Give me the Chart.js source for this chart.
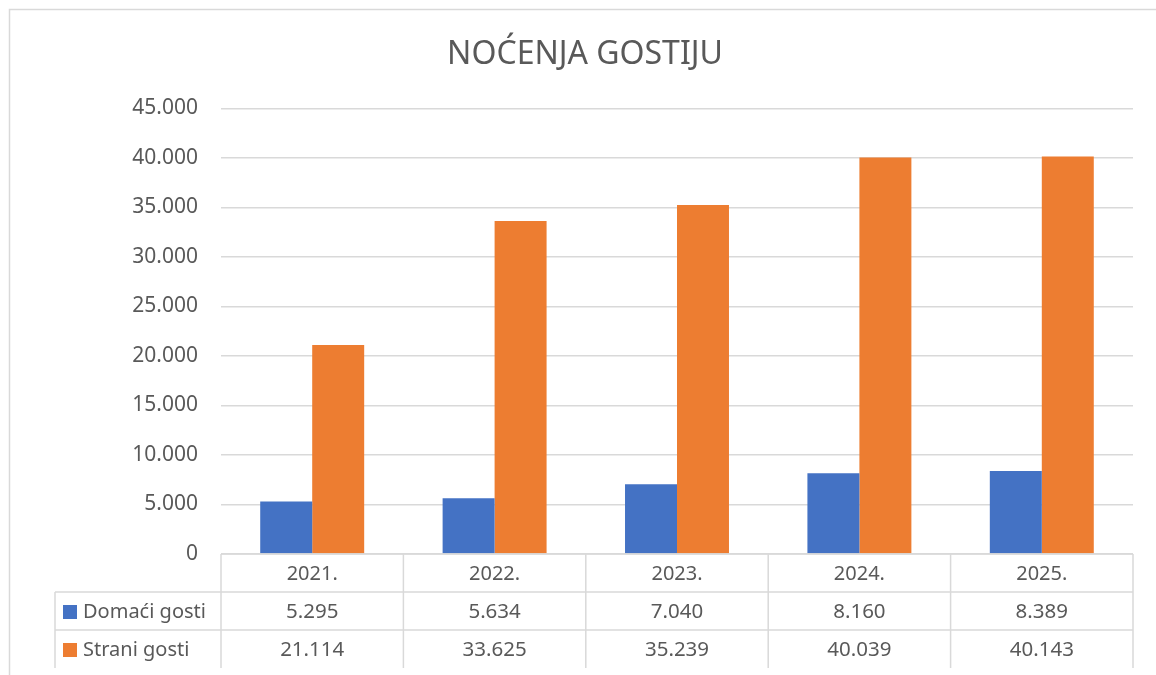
<!DOCTYPE html>
<html>
<head>
<meta charset="utf-8">
<script src="https://cdn.jsdelivr.net/npm/chart.js@4/dist/chart.umd.min.js"></script>
<style>
  html, body { margin: 0; padding: 0; background: #fff; }
  #wrap { width: 1156px; height: 675px; }
</style>
</head>
<body>
<div id="wrap"><canvas id="nocenja"></canvas></div>
<script>
const years = ['2021.', '2022.', '2023.', '2024.', '2025.'];
const domaci = [5295, 5634, 7040, 8160, 8389];
const strani = [21114, 33625, 35239, 40039, 40143];
const seriesNames = ['Domaći gosti', 'Strani gosti'];
const seriesColors = ['#4472C4', '#ED7D31'];

const textColor = '#595959';
const lineColor = '#D9D9D9';
const fontFamily = '"Noto Sans", "Open Sans", sans-serif';

function fmt(v) {
    return String(v).replace(/\B(?=(\d{3})+(?!\d))/g, '.');
}

// outer frame + data table under the plot
const dataTable = {
    id: 'dataTable',
    beforeDraw(chart) {
        const ctx = chart.ctx;
        ctx.save();
        ctx.strokeStyle = lineColor;
        ctx.lineWidth = 1.5;
        ctx.strokeRect(9.5, 9.5, 1300, 800);
        ctx.restore();
    },
    afterDraw(chart) {
        const ctx = chart.ctx;
        const area = chart.chartArea;
        const x = chart.scales.x;
        const n = years.length;
        const colW = (area.right - area.left) / n;
        const rowH = 38;
        const top = area.bottom;
        const labelLeft = 55;
        const rows = [domaci, strani];

        ctx.save();
        ctx.strokeStyle = lineColor;
        ctx.lineWidth = 1.5;
        ctx.beginPath();
        ctx.moveTo(area.left, top);
        ctx.lineTo(area.right, top);
        for (let r = 1; r <= rows.length; r++) {
            ctx.moveTo(labelLeft, top + r * rowH);
            ctx.lineTo(area.right, top + r * rowH);
        }
        ctx.moveTo(labelLeft, top + rowH);
        ctx.lineTo(labelLeft, top + rowH * 3);
        for (let i = 0; i <= n; i++) {
            const cx = area.left + i * colW;
            ctx.moveTo(cx, top);
            ctx.lineTo(cx, top + rowH * 3);
        }
        ctx.stroke();

        ctx.fillStyle = textColor;
        ctx.font = '20px ' + fontFamily;
        ctx.textAlign = 'center';
        ctx.textBaseline = 'middle';
        years.forEach((y, i) => {
            ctx.fillText(y, x.getPixelForValue(i), top + rowH / 2 + 1);
        });
        rows.forEach((vals, r) => {
            const cy = top + rowH * (r + 1) + rowH / 2 + 1;
            ctx.font = '20.5px ' + fontFamily;
            vals.forEach((v, i) => {
                ctx.fillText(fmt(v), x.getPixelForValue(i), cy);
            });
            ctx.font = '20px ' + fontFamily;
            ctx.fillStyle = seriesColors[r];
            ctx.fillRect(63, cy - 7, 14, 14);
            ctx.fillStyle = textColor;
            ctx.textAlign = 'left';
            ctx.fillText(seriesNames[r], 83, cy);
            ctx.textAlign = 'center';
        });
        ctx.restore();
    }
};

new Chart(document.getElementById('nocenja'), {
    type: 'bar',
    data: {
        labels: years,
        datasets: [
            { label: seriesNames[0], data: domaci, backgroundColor: seriesColors[0] },
            { label: seriesNames[1], data: strani, backgroundColor: seriesColors[1] }
        ]
    },
    options: {
        responsive: true,
        maintainAspectRatio: false,
        animation: false,
        categoryPercentage: 0.57,
        barPercentage: 1,
        layout: { padding: { left: 37, right: 23, top: 0, bottom: 121 } },
        plugins: {
            legend: { display: false },
            tooltip: { enabled: false },
            title: {
                display: true,
                text: 'NOĆENJA GOSTIJU',
                color: textColor,
                font: { family: fontFamily, size: 32, weight: 'normal' },
                padding: { top: 36, bottom: 34 }
            }
        },
        scales: {
            x: { display: false },
            y: {
                min: 0,
                max: 45000,
                ticks: {
                    stepSize: 5000,
                    color: textColor,
                    padding: 23,
                    font: { family: fontFamily, size: 21 },
                    callback: v => fmt(v)
                },
                grid: { color: lineColor, lineWidth: 1.5, drawTicks: false },
                border: { display: false },
                afterFit(scale) { scale.width = 184; }
            }
        }
    },
    plugins: [dataTable]
});
</script>
</body>
</html>
